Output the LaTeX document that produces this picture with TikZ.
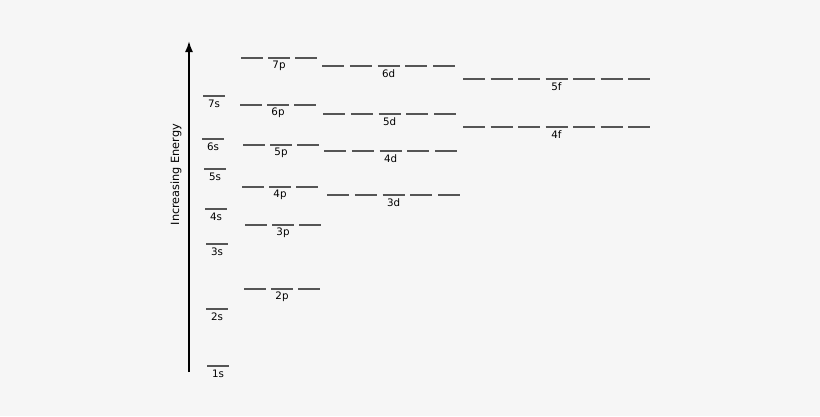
\documentclass[tikz,border=0pt]{standalone}
\usepackage{fontspec}
\setmainfont{DejaVu Sans}
\usetikzlibrary{arrows.meta}
\definecolor{bgcol}{HTML}{F6F6F6}
\definecolor{lvlcol}{HTML}{555555}

\begin{document}
\begin{tikzpicture}[x=1pt,y=-1pt,>={Latex[length=11pt,width=8pt]},
      level/.style={draw=lvlcol,line width=1.3pt},
      orb/.style={font=\fontsize{10.3}{10.3}\selectfont,inner sep=0pt}]
    \fill[bgcol] (0,0) rectangle (820,416);
    \useasboundingbox (0,0) rectangle (820,416);
    % energy axis
    \coordinate (bottom) at (189,372);
    \coordinate (top) at (189,41);
    \draw[->,line width=1.8pt] (bottom) -- (top);
    \node[rotate=90,font=\fontsize{11.3}{11.3}\selectfont] (axis) at (176,174.5) {Increasing Energy};
    % s levels
    \foreach \name/\x/\y in {7s/203/96,6s/202/139,5s/204/169,4s/205/209,3s/206/244,2s/206/309,1s/207/366}{
      \draw[level] (\x,\y) -- ++(22,0);
      \node[orb] (o-\name) at (\x+11,\y+8) {\name};
    }
    % p levels
    \foreach \name/\x/\y in {7p/241/58,6p/240/105,5p/243/145,4p/242/187,3p/245/225,2p/244/289}{
      \foreach \i in {0,1,2}
        \draw[level] (\x+\i*27,\y) -- ++(22,0);
      \node[orb] (o-\name) at (\x+38,\y+8) {\name};
    }
    % d levels
    \foreach \name/\x/\y in {6d/322/66,5d/323/114,4d/324/151,3d/327/195}{
      \foreach \i in {0,...,4}
        \draw[level] (\x+\i*27.8,\y) -- ++(22,0);
      \node[orb] (o-\name) at (\x+66.6,\y+8) {\name};
    }
    % f levels
    \foreach \name/\x/\y in {5f/463/79,4f/463/127}{
      \foreach \i in {0,...,6}
        \draw[level] (\x+\i*27.5,\y) -- ++(22,0);
      \node[orb] (o-\name) at (\x+93.5,\y+8) {\name};
    }
  \end{tikzpicture}
\end{document}
